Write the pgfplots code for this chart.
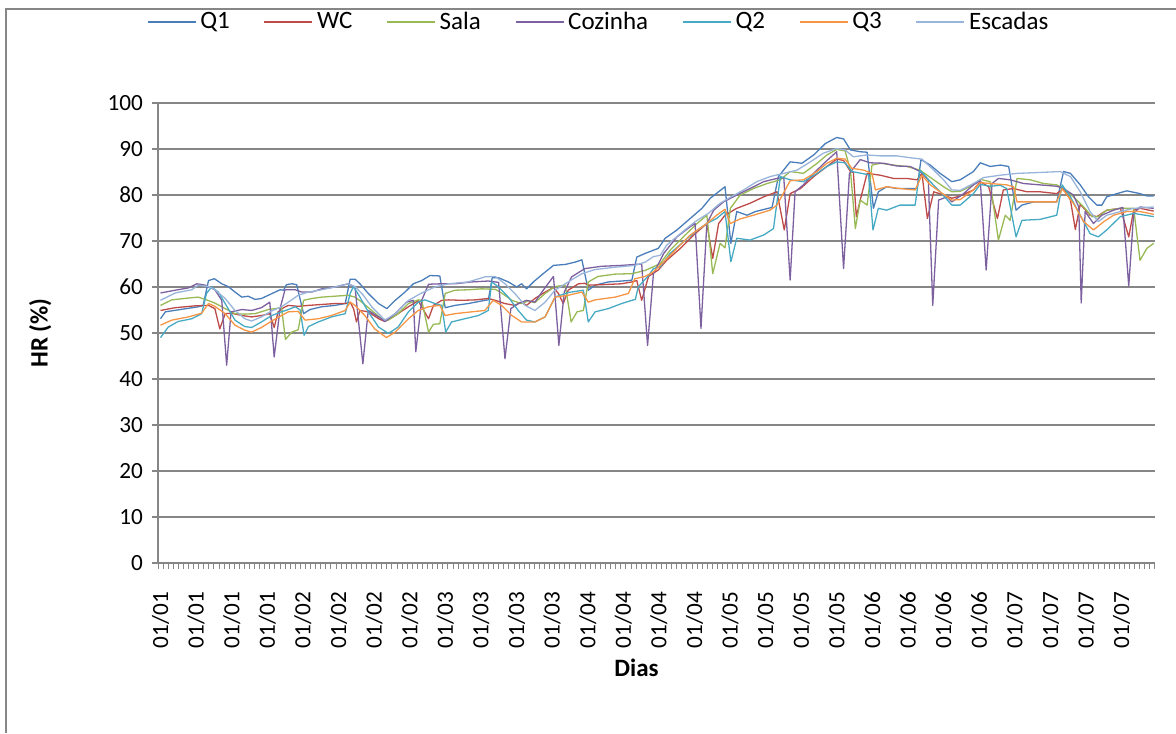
\documentclass[border=0pt]{standalone}
\usepackage{pgfplots}
\pgfplotsset{compat=1.18}
\usepackage{fontspec}
\setmainfont{Carlito}

\definecolor{gridgray}{HTML}{868686}
\definecolor{cQone}{HTML}{4A7EBB}
\definecolor{cWC}{HTML}{BE4B48}
\definecolor{cSala}{HTML}{98B954}
\definecolor{cCoz}{HTML}{7D60A0}
\definecolor{cQtwo}{HTML}{46AAC5}
\definecolor{cQthree}{HTML}{F69544}
\definecolor{cEsc}{HTML}{99B4DA}

\begin{document}
\begin{tikzpicture}
% canvas: 1 px of the reference = 0.5pt
\path[use as bounding box] (0,0) rectangle (588pt,366.5pt);
\draw[gridgray, line width=0.9pt] (3pt,0) -- (3pt,362pt) -- (588pt,362pt);

\begin{axis}[
    at={(79pt,85pt)}, anchor=south west,
    scale only axis,
    width=498.5pt, height=230pt,
    xmin=-0.51, xmax=202.96,
    ymin=0, ymax=100,
    ytick={0,10,...,100},
    xtick={0,7.265,...,196.2},
    xticklabels={01/01,01/01,01/01,01/01,01/02,01/02,01/02,01/02,
                 01/03,01/03,01/03,01/03,01/04,01/04,01/04,01/04,
                 01/05,01/05,01/05,01/05,01/06,01/06,01/06,01/06,
                 01/07,01/07,01/07,01/07},
    minor xtick={-0.51,0.528,...,203},
    major x tick style={draw=none},
    minor x tick style={draw=gridgray, line width=0.5pt},
    major y tick style={draw=gridgray, line width=0.75pt},
    tick align=outside,
    major tick length=3pt,
    minor tick length=3pt,
    axis x line*=bottom,
    axis y line*=left,
    axis line style={-, draw=gridgray, line width=0.75pt},
    ymajorgrids=true,
    major grid style={draw=gridgray, line width=0.75pt},
    /pgf/number format/assume math mode=true,
    ticklabel style={font=\fontsize{11.6}{13}\selectfont},
    yticklabel style={xshift=-1pt},
    xticklabel style={yshift=-8pt, rotate=90, anchor=east},
    xlabel={\textbf{Dias}},
    ylabel={\textbf{HR (\%)}},
    label style={font=\fontsize{12.5}{14}\selectfont},
    xlabel style={at={(axis description cs:0.48,-0.228)}, anchor=center},
    ylabel style={at={(axis description cs:-0.118,0.5)}, anchor=center},
    legend style={at={(axis description cs:0.443,1.176)}, anchor=center,
        draw=none, fill=none, legend columns=7,
        font=\fontsize{12.5}{14}\selectfont,
        nodes={inner xsep=2pt},
        /tikz/every even column/.append style={column sep=15pt}},
    legend image code/.code={\draw[#1] (0pt,0pt) -- (24pt,0pt);},
    every axis plot/.append style={line width=0.65pt, line join=round},
]

% Q1
\addplot[color=cQone] coordinates {
(0,53.1)(1,54.6)(7.7,55.7)(8.7,56.0)(9.8,61.4)(11,61.8)(12.5,60.7)(13.8,60.1)(15.2,58.9)(16.6,57.8)
(17.9,58.0)(19.3,57.3)(20.6,57.5)(22,58.2)(23.4,58.9)(24.4,59.4)(25.1,59.3)(25.7,60.5)(26.8,60.7)(27.8,60.5)
(29.2,54.2)(30.5,55.1)(32.9,55.7)(35.6,56.0)(37.7,56.4)(38.7,61.7)(39.7,61.7)(40.7,60.7)(42.4,58.6)(44.5,56.4)
(46.2,55.3)(47.9,57.1)(49.9,58.9)(51.6,60.7)(53.3,61.4)(55,62.5)(57,62.4)(58.1,55.5)(60.1,56.0)(62.8,56.4)
(66.2,57.1)(66.9,57.2)(67.7,62.0)(69,62.0)(71,61.1)(72.7,60.0)(73.7,60.7)(74.7,59.6)(76.1,61.1)(78.1,62.9)
(80.2,64.7)(82.6,64.9)(84.6,65.4)(86,65.9)(87.3,59.3)(88.7,60.4)(91.4,61.1)(95.5,61.4)(96.2,61.5)(97.2,66.5)
(98.9,67.3)(101.6,68.4)(103,70.6)(105.4,72.4)(108.1,74.9)(110.5,77.1)(112.2,79.3)(113.9,80.7)(115.2,81.8)(116.4,69.5)
(117.6,76.4)(119.7,75.6)(121.4,76.4)(124.8,77.3)(126.1,84.0)(128.5,87.2)(130.9,86.9)(133.3,88.7)(135.7,91.2)(138,92.5)
(139.4,92.2)(140.8,89.8)(142.8,89.4)(144.2,89.3)(145.5,77.1)(146.5,80.7)(148.2,81.8)(150.3,81.4)(154.4,81.4)(155.2,87.7)
(157.1,86.5)(159.1,84.7)(161.5,82.9)(163.2,83.3)(165.9,85.1)(167.3,87.0)(169.3,86.2)(171.4,86.5)(173.1,86.2)(174.6,76.7)
(175.8,77.8)(178.2,78.5)(182.9,78.5)(184.3,85.1)(185.7,84.7)(187.7,82.2)(189.4,79.6)(191.1,77.8)(192.1,77.8)(193.1,79.6)
(195.2,80.3)(197.2,80.9)(199.9,80.3)(201.3,79.8)(202.7,79.8)
};
% WC
\addplot[color=cWC] coordinates {
(0,54.9)(3,55.5)(7,55.9)(9.8,56.0)(11.1,55.3)(12.1,50.9)(13.2,54.2)(14.5,54.3)(16.6,53.8)(18.6,53.5)
(20.6,53.8)(22.3,54.2)(23.2,51.2)(24,54.6)(25.1,55.5)(26.1,56.0)(28.1,55.8)(30.2,56.0)(32.9,56.2)(35.6,56.4)
(37.7,56.4)(38.7,56.7)(39.4,55.3)(40,52.4)(40.7,54.9)(42.4,54.6)(44.5,53.1)(45.8,52.5)(47.9,53.8)(50.6,55.7)
(52.6,57.0)(54.7,53.1)(55.7,56.0)(57.4,57.1)(58.8,57.2)(61.5,57.1)(64.2,57.2)(66.9,57.5)(68.3,57.1)(70.3,56.4)
(72.3,56.0)(73.7,56.7)(74.7,56.0)(76.4,57.5)(78.5,58.9)(80.2,59.9)(81.2,58.6)(82.2,56.4)(83.2,59.3)(85.3,60.7)
(86.6,60.8)(87.3,60.4)(90,60.5)(94.1,60.7)(96.2,61.1)(97.2,61.4)(98.2,57.1)(99.6,62.3)(101.6,63.7)(103.3,65.8)
(106.1,68.4)(108.8,71.3)(111.5,73.8)(112.7,66.2)(113.9,73.8)(115.2,75.6)(117.6,77.1)(120.3,78.2)(123.1,79.6)(125.8,80.7)
(127.3,72.4)(128.5,80.3)(130.6,81.4)(133.3,84.0)(136,86.2)(138,87.8)(139.4,87.5)(140.8,85.1)(141.4,84.9)(142,75.3)
(142.8,78.9)(144.2,84.7)(146.9,84.3)(149.6,83.6)(152.3,83.6)(154.4,83.3)(155.4,84.7)(156.5,74.9)(157.8,80.7)(159.8,80.0)
(161.5,79.3)(163.2,79.8)(165.9,81.1)(167.3,82.9)(169,81.8)(170.8,74.9)(172,81.1)(174.1,81.4)(176.8,80.7)(179.5,80.7)
(182.9,80.3)(184.3,81.4)(185.7,78.9)(186.7,72.5)(187.7,78.0)(189.7,75.6)(191.1,75.3)(193.1,76.7)(195.9,77.1)(197.6,70.9)
(198.6,76.7)(199.9,77.1)(202.7,76.5)
};
% Sala
\addplot[color=cSala] coordinates {
(0,56.0)(2.3,57.2)(5.7,57.6)(7.7,57.8)(9.4,57.2)(11.1,56.5)(13.2,55.3)(15.2,54.2)(17.2,54.1)(19.3,54.2)
(22,55.1)(24.7,55.5)(25.5,48.6)(26.8,50.2)(28.1,50.7)(29.2,57.1)(30.9,57.5)(32.9,57.8)(35.6,58.0)(38.3,58.2)
(39.7,57.8)(41.1,56.7)(43.1,54.9)(45.1,53.1)(46.5,52.8)(48.5,54.2)(50.6,56.4)(52.6,57.2)(53.3,57.1)(54.7,50.2)
(55.7,51.9)(57,52.0)(58.1,58.6)(60.1,59.3)(62.8,59.4)(65.5,59.6)(68.3,59.5)(69.6,58.7)(71.7,57.1)(73.7,56.4)
(75.1,57.0)(76.4,56.6)(78.5,58.6)(80.5,60.1)(82.6,60.4)(83.8,52.4)(85,54.6)(86.3,54.9)(87.3,61.1)(89.3,62.3)
(92.8,62.8)(96.2,62.9)(98.9,63.6)(100.6,64.4)(102,65.1)(104,68.0)(106.7,70.9)(109.5,73.8)(111.5,75.6)(112.7,62.9)
(114.2,69.5)(115.2,68.5)(116.3,77.1)(118.3,80.0)(121,81.4)(123.8,82.5)(126.5,83.3)(128.5,85.1)(131.2,84.7)(134,86.9)
(136,88.7)(138,89.9)(139.7,89.6)(140.8,85.4)(141.8,72.7)(142.8,78.9)(144.2,77.8)(145.2,86.5)(146.9,86.9)(149.6,86.5)
(152.3,86.2)(155,85.4)(157.8,83.3)(159.8,81.8)(161.5,80.7)(163.2,80.8)(165.9,82.2)(167.3,83.4)(169.3,82.9)(171,70.2)
(172.4,75.6)(173.4,74.5)(174.8,83.6)(177.5,83.3)(180.2,82.5)(182.9,82.2)(184.3,81.4)(186.3,79.6)(188.4,77.4)(190.1,75.3)
(191.4,75.3)(193.1,76.7)(195.9,77.1)(198.6,77.1)(199.9,65.8)(201.3,68.4)(202.7,69.5)
};
% Cozinha
\addplot[color=cCoz] coordinates {
(0,58.7)(3,59.3)(5.7,59.8)(7.4,60.7)(9.1,60.4)(11.1,59.4)(12.5,57.1)(13.5,43.0)(14.4,54.6)(16.6,55.1)
(18.6,54.9)(20.6,55.5)(22.3,56.7)(23.2,44.8)(24.4,55.3)(25.4,59.4)(27.5,59.4)(28.8,58.9)(30.9,58.9)(32.9,59.6)
(35.6,60.0)(38.3,60.7)(39.7,60.0)(41.3,43.3)(42.4,54.9)(44.5,53.5)(45.8,52.5)(47.9,54.2)(50.2,56.7)(51.6,57.1)
(52.1,45.9)(53.3,57.1)(54.7,60.6)(57.4,60.7)(60.1,60.7)(63.5,61.1)(66.9,61.3)(69,61.0)(70.3,44.4)(71.5,55.3)
(73,56.4)(74.7,57.1)(76.4,56.7)(78.1,59.3)(80.2,62.3)(81.3,47.3)(82.4,58.9)(83.9,62.2)(86.6,64.0)(90,64.5)
(94.1,64.7)(98.2,65.0)(99.4,47.3)(100.6,62.9)(102.7,67.3)(105.4,70.9)(108.1,73.1)(109.1,73.8)(110.3,51.0)(111.5,73.8)
(112.9,76.7)(114.9,78.5)(117.6,80.0)(120.3,81.4)(123.1,82.9)(125.8,83.6)(127.2,83.8)(128.5,61.5)(129.5,80.7)(131.2,82.2)
(133.3,84.7)(135.7,87.2)(138,89.4)(139.4,64.0)(140.6,84.7)(142.8,87.7)(144.8,87.0)(147.6,86.9)(150.3,86.3)(153,86.2)
(155,85.1)(156.7,83.3)(157.6,56.0)(158.8,78.9)(160.5,79.6)(161.5,78.5)(163.9,80.3)(165.9,82.2)(167.3,83.1)(168.5,63.7)
(169.7,82.5)(171,83.6)(173.4,83.3)(176.1,82.5)(179.5,82.2)(182.9,81.9)(184.3,81.4)(186.3,80.0)(187.4,77.4)(187.9,56.5)
(188.7,76.4)(190.4,73.8)(192.1,75.6)(194.5,76.7)(196.4,77.3)(197.6,60.2)(198.6,76.0)(199.9,77.4)(202.7,77.1)
};
% Q2
\addplot[color=cQtwo] coordinates {
(0,49.0)(1.6,51.3)(3.6,52.5)(6.4,53.1)(8.4,54.2)(9.4,58.6)(10.4,60.0)(11.8,58.9)(13.2,56.4)(15.2,52.8)
(17.2,51.4)(18.6,51.2)(20.6,52.4)(22.7,53.8)(24.7,54.6)(26.1,55.1)(27.5,55.7)(28.5,55.0)(29.3,49.5)(30.2,51.4)
(32.2,52.4)(34.9,53.5)(37.7,54.2)(38.7,58.6)(39.4,60.1)(40.7,57.8)(42.4,54.6)(44.5,51.3)(46.5,49.9)(48.5,51.3)
(50.6,54.6)(52.6,56.7)(54,57.2)(56,56.4)(57.4,56.0)(58.2,50.2)(59.4,52.4)(62.1,53.1)(64.9,53.8)(66.9,54.9)
(67.6,61.1)(69,60.0)(71,57.8)(73,54.9)(74.7,52.8)(76.4,52.4)(78.5,53.5)(80.5,57.8)(83.2,58.8)(86.3,59.3)
(87.3,52.4)(88.7,54.6)(91.4,55.3)(94.1,56.4)(96.2,57.1)(96.9,57.3)(97.5,60.0)(99.6,62.5)(100.6,64.0)(102,64.4)
(104,67.3)(106.7,69.8)(109.1,72.0)(111.5,73.8)(113.5,74.9)(115.2,76.4)(116.4,65.5)(117.6,70.6)(120.3,70.2)(123.1,71.3)
(125.1,72.7)(126.5,84.0)(128.5,83.3)(131.2,82.9)(134,84.7)(136,86.2)(138,87.2)(139.7,87.0)(141.1,85.1)(143.1,84.7)
(144.5,84.4)(145.4,72.4)(146.5,77.1)(148.2,76.7)(150.9,77.8)(154,77.8)(155,85.4)(157.1,82.9)(159.1,80.7)(161.5,77.8)
(163.2,77.8)(165.9,80.3)(167.3,82.3)(169.3,81.9)(171.4,82.1)(172.7,81.4)(174.6,70.9)(175.8,74.5)(179.5,74.7)(182.9,75.6)
(184,82.2)(185.7,79.6)(187.7,75.6)(189.7,71.6)(191.4,70.9)(193.1,72.4)(195.9,75.3)(198.6,76.0)(202.7,75.3)
};
% Q3
\addplot[color=cQthree] coordinates {
(0,51.7)(2.3,52.8)(5.7,53.5)(8.4,54.3)(9.8,56.4)(11.1,55.8)(13.2,54.2)(15.2,51.7)(17.2,50.6)(18.6,50.2)
(20.6,51.2)(22.7,52.6)(24.7,53.8)(26.1,54.6)(28.1,54.7)(29.5,52.8)(32.2,53.1)(34.9,53.8)(37.7,54.9)(38.7,56.7)
(39.7,56.0)(41.7,53.8)(43.7,50.9)(46.1,49.0)(47.9,50.2)(50.6,53.1)(52.6,54.9)(54.7,55.7)(57,56.0)(58.1,53.8)
(60.1,54.2)(63.5,54.6)(66.2,54.9)(67.9,57.1)(69.6,56.0)(71.7,53.8)(73.7,52.4)(76.4,52.4)(78.5,53.5)(80.5,57.8)
(83.2,58.2)(86,58.9)(87.3,56.7)(88.7,57.2)(92.8,57.8)(95.5,58.6)(96.8,61.8)(98.9,62.3)(100.6,63.3)(102.7,65.5)
(105.4,68.4)(108.1,71.3)(111.5,73.8)(113.5,75.6)(115.2,76.9)(116.3,73.8)(118.3,74.8)(121,75.6)(124.4,76.7)(125.8,77.8)
(128.5,83.1)(131.2,83.3)(134,85.1)(136,86.9)(138,88.0)(139.7,87.8)(141.1,85.8)(143.5,85.4)(145.2,84.7)(145.9,81.1)
(148.2,81.8)(150.9,81.4)(154,81.1)(155.4,84.3)(157.1,82.2)(159.1,80.7)(161.5,78.9)(163.2,79.0)(165.9,81.1)(167.3,82.7)
(169.3,82.5)(172.7,82.2)(174.1,81.8)(174.8,78.5)(182.9,78.5)(184,81.4)(186.3,78.2)(188.4,74.2)(190.4,72.4)(192.5,74.2)
(194.5,75.6)(197.2,76.4)(199.9,76.4)(202.7,75.8)
};
% Escadas
\addplot[color=cEsc] coordinates {
(0,57.1)(3,58.7)(6.4,59.4)(7.7,60.4)(9.8,60.1)(11.1,59.4)(13.2,57.5)(15.2,54.9)(17.2,53.1)(18.6,52.6)
(20.6,53.5)(22.7,54.8)(24.7,55.7)(26.1,56.7)(28.1,58.2)(30.2,58.9)(32.9,59.4)(35.6,60.0)(38.3,60.7)(39.7,60.1)
(41.4,58.2)(43.1,55.7)(45.8,52.8)(47.9,54.2)(50.6,57.1)(53.3,58.7)(56,60.0)(58.8,60.7)(62.8,61.1)(66.2,62.2)
(68.3,62.3)(70.3,60.7)(72.3,58.6)(74.4,56.0)(76.4,54.9)(78.5,56.7)(80.5,59.3)(83.2,61.1)(86,62.9)(88.7,63.8)
(92.8,64.3)(96.8,64.7)(98.9,65.4)(100.6,66.6)(102,66.9)(103.3,69.1)(106.1,71.6)(109.1,74.2)(111.8,76.0)(114.2,78.2)
(116.3,79.5)(119,81.1)(121.7,82.9)(124.4,84.0)(127.2,84.7)(129.9,85.4)(132.6,87.2)(135.3,89.1)(138,90.1)(139.7,89.8)
(141.4,88.3)(144.2,88.7)(146.9,88.5)(150.3,88.5)(153,88.1)(155.4,87.8)(157.8,85.4)(159.8,83.3)(161.5,81.1)(163.2,81.0)
(165.9,82.5)(168,83.8)(171.4,84.3)(174.8,84.7)(179.5,84.9)(183.6,85.1)(185.7,84.0)(187.7,80.7)(189.7,76.4)(191.4,74.2)
(193.1,75.6)(195.9,76.4)(198.6,77.1)(202.7,77.4)
};

\legend{Q1, WC, Sala, Cozinha, Q2, Q3, Escadas}
\end{axis}
\end{tikzpicture}
\end{document}
